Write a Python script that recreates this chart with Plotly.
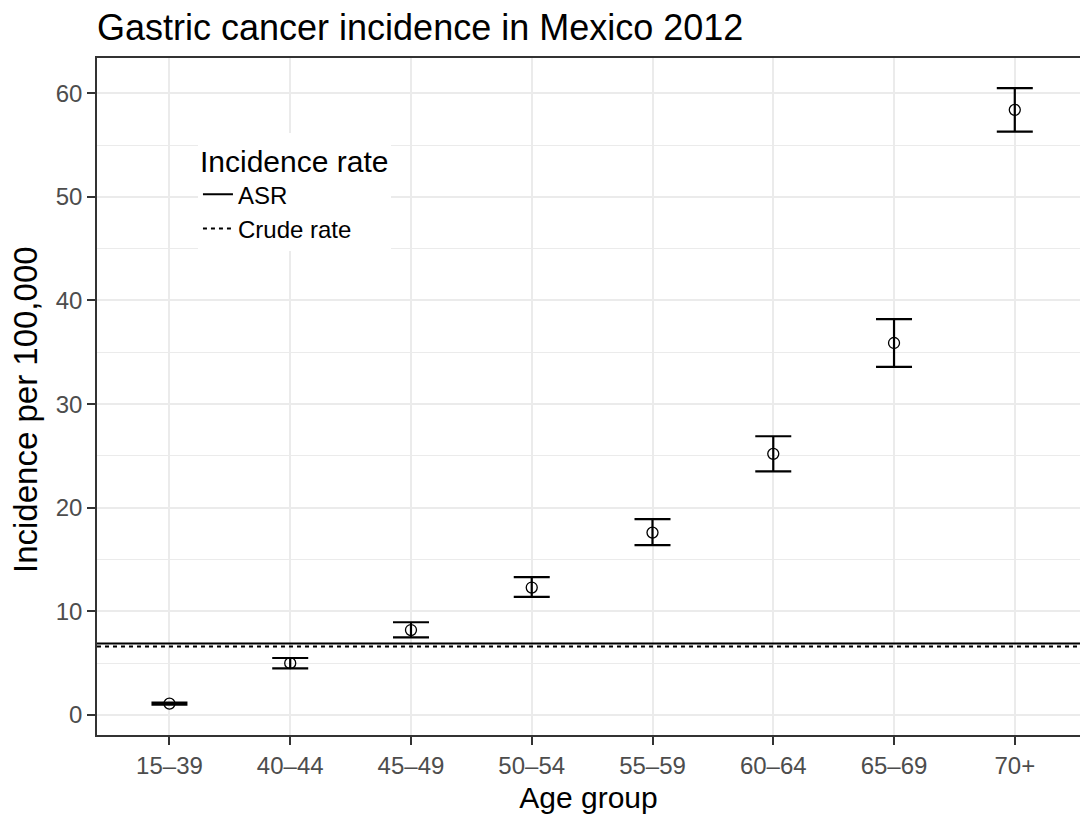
import plotly.graph_objects as go

# Age-specific gastric cancer incidence, Mexico 2012 (per 100,000)
age_groups = ["15\u201339", "40\u201344", "45\u201349", "50\u201354", "55\u201359", "60\u201364", "65\u201369", "70+"]
incidence = [1.1, 5.0, 8.2, 12.3, 17.6, 25.2, 35.9, 58.4]
ci_lower = [1.0, 4.5, 7.5, 11.4, 16.4, 23.5, 33.6, 56.3]
ci_upper = [1.2, 5.5, 8.95, 13.3, 18.9, 26.9, 38.2, 60.5]

# Summary rates drawn as horizontal reference lines
rate_names = ["ASR", "Crude rate"]
rate_values = [6.9, 6.6]
rate_dashes = ["solid", "4px,4px"]

x_pos = list(range(len(age_groups)))
x_range = [-0.6, 7.54]

fig = go.Figure()

for name, val, dash in zip(rate_names, rate_values, rate_dashes):
    fig.add_trace(go.Scatter(
        x=x_range, y=[val, val], mode="lines", name=name,
        line=dict(color="black", width=2, dash=dash),
        hoverinfo="skip",
    ))

fig.add_trace(go.Scatter(
    x=x_pos, y=incidence, mode="markers", showlegend=False,
    marker=dict(symbol="circle-open", size=11, color="black", line=dict(width=1.3)),
    error_y=dict(
        type="data", symmetric=False,
        array=[u - v for u, v in zip(ci_upper, incidence)],
        arrayminus=[v - l for l, v in zip(ci_lower, incidence)],
        color="black", thickness=2.2, width=18,
    ),
))

fig.update_layout(
    width=1080, height=814,
    margin=dict(l=97, r=0, t=58, b=79),
    paper_bgcolor="white", plot_bgcolor="white",
    font=dict(family="Liberation Sans, Arial, sans-serif", color="black"),
    title=dict(
        text="Gastric cancer incidence in Mexico 2012",
        font=dict(size=36, color="black"),
        x=97 / 1080, xanchor="left", xref="container",
        y=1 - 27 / 814, yanchor="middle", yref="container",
    ),
    xaxis=dict(
        range=x_range, tickmode="array", tickvals=x_pos, ticktext=age_groups,
        showgrid=True, gridcolor="#EBEBEB", gridwidth=2,
        zeroline=False,
        showline=True, linecolor="#333333", linewidth=1.6, mirror=True,
        ticks="outside", ticklen=8, tickwidth=1.6, tickcolor="#333333",
        tickfont=dict(size=24, color="#4D4D4D"),
        title=dict(text="Age group", font=dict(size=30, color="black"), standoff=10),
    ),
    yaxis=dict(
        range=[-1.93, 63.4], tickmode="array", tickvals=[0, 10, 20, 30, 40, 50, 60],
        showgrid=True, gridcolor="#EBEBEB", gridwidth=2,
        minor=dict(tickmode="array", tickvals=[5, 15, 25, 35, 45, 55],
                   showgrid=True, gridcolor="#EBEBEB", gridwidth=1),
        zeroline=False,
        showline=True, linecolor="#333333", linewidth=1.6, mirror=False,
        ticks="outside", ticklen=8, tickwidth=1.6, tickcolor="#333333",
        tickfont=dict(size=24, color="#4D4D4D"),
    ),
    annotations=[dict(
        text="Incidence per 100,000", textangle=-90,
        xref="paper", yref="paper", x=-97 / 983 + 26 / 983, y=(735 - 410) / 677,
        xanchor="center", yanchor="middle", showarrow=False,
        font=dict(size=33, color="black"),
    )],
    legend=dict(
        x=0.1027, y=0.889, xanchor="left", yanchor="top",
        bgcolor="white", borderwidth=0,
        title=dict(text="Incidence rate", font=dict(size=30, color="black")),
        font=dict(size=24, color="black"),
        itemwidth=30, tracegroupgap=0,
    ),
)

fig.write_html("out.html")
